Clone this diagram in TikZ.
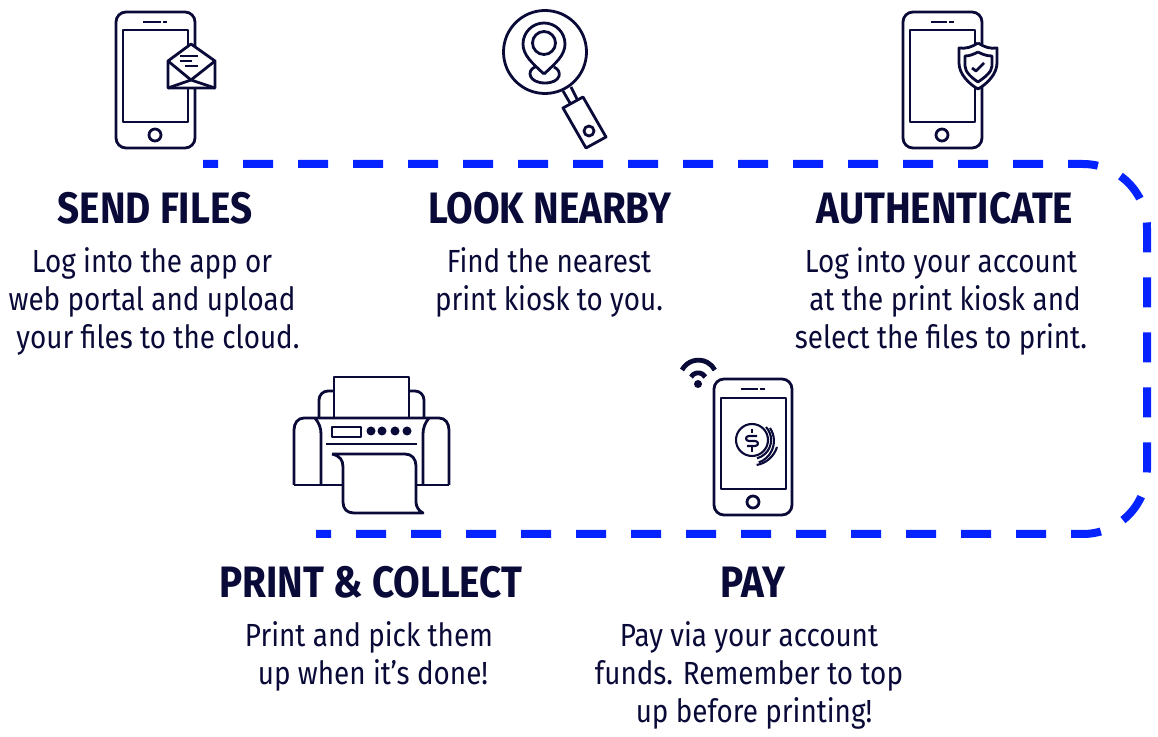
\documentclass[tikz,border=0pt]{standalone}
\usepackage{fontspec}
\setmainfont{Fira Sans}[FakeStretch=0.87]
\newfontfamily\headfont{Fira Sans}[FakeStretch=0.878,UprightFont=*-Bold]
\definecolor{inkblue}{HTML}{0A0A38}
\definecolor{routeblue}{HTML}{0423FF}
\begin{document}
\begin{tikzpicture}[x=0.5pt,y=-0.5pt]
\tikzstyle{every node}=[inner sep=0pt,text=inkblue]
\tikzstyle{icon}=[draw=inkblue,line width=1.4pt,line join=round]
\tikzstyle{fine}=[draw=inkblue,line width=1.05pt,line join=round]
\tikzstyle{route}=[draw=routeblue,line width=4pt,dash pattern=on 15pt off 12.5pt,dash phase=7.5pt]
\tikzstyle{heading}=[font=\headfont\fontsize{22}{24}\selectfont,anchor=base]
\tikzstyle{caption}=[font=\fontsize{16}{19}\selectfont,align=center,anchor=north]
\useasboundingbox (0,0) rectangle (1158,737);
% route
\coordinate (routestart) at (203,164);
\coordinate (routeend) at (316,534);
\draw[route] (routestart) -- (1083,164) arc (-90:0:64) -- (1147,470) arc (0:90:64) -- (routeend);
% send files
\draw[icon,rounded corners=5pt] (116,12) rectangle (195,148);
\draw[icon] (123,30) rectangle (188,122);
\draw[icon] (143,22) -- (161,22);
\draw[icon] (163,22) -- (167,22);
\draw[icon] (155,135) circle (6);
\draw[icon,fill=white] (168,61) -- (191,44) -- (215,61) -- (215,88) -- (168,88) -- cycle;
\draw[icon] (168,61) -- (191,80) -- (215,61);
\draw[icon] (168,88) -- (191,80) -- (215,88);
\draw[fine] (180,56) -- (198,56);
\draw[fine] (180,61) -- (192,61);
\draw[fine] (185,66) -- (198,66);
% look nearby
\draw[icon] (545,52) circle (41.500);
\draw[icon] (544,43) circle (11.500);
\draw[icon] (544,74) .. controls (532,63) and (523,55) .. (523,44) arc (180:360:21) .. controls (565,55) and (556,63) .. (544,74);
\draw[icon] (535,67) .. controls (526,71) and (529,83) .. (545,83) .. controls (561,83) and (563,71) .. (554,67);
\draw[icon] (563,91) -- (570,103);
\draw[icon] (571,87) -- (577,99);
\draw[icon] (563,108) -- (583,97) -- (606,137) -- (586,148) -- cycle;
\draw[icon] (589,131) circle (5);
% authenticate
\draw[icon,rounded corners=5pt] (903,12) rectangle (982,148);
\draw[icon] (910,30) rectangle (975,122);
\draw[icon] (931,22) -- (947,22);
\draw[icon] (949,22) -- (954,22);
\draw[icon] (942,135) circle (6);
\draw[icon,fill=white] (978,43) .. controls (972,47) and (966,49) .. (959,48) -- (959,63) .. controls (959,74) and (969,84) .. (978,89) .. controls (987,84) and (997,74) .. (997,63) -- (997,48) .. controls (990,49) and (984,47) .. (978,43);
\draw[icon] (978,52) .. controls (974,54) and (970,56) .. (965,56) -- (965,66) .. controls (965,72) and (972,78) .. (978,82) .. controls (984,78) and (992,72) .. (992,66) -- (992,56) .. controls (986,56) and (982,54) .. (978,52);
\draw[icon] (972,68) -- (976,71) -- (984,63);
% print and collect
\draw[icon] (334,377) rectangle (409,418);
\draw[icon] (334,391) -- (328,391) arc (-90:-180:9) -- (319,418);
\draw[icon] (409,391) -- (415,391) arc (-90:0:9) -- (424,418);
\draw[icon] (294,485) -- (294,430) .. controls (294,423) and (298,418) .. (304,418) -- (439,418) .. controls (445,418) and (449,423) .. (449,430) -- (449,485);
\draw[icon] (315,418) .. controls (319,423) and (321,428) .. (321,434) -- (321,485);
\draw[icon] (429,418) .. controls (425,423) and (423,428) .. (423,434) -- (423,485);
\draw[icon] (294,485) -- (343,485);
\draw[icon] (415,485) -- (449,485);
\draw[icon] (332,427) rectangle (361,437);
\foreach \dotx in {371,382,395,407}
  \fill[inkblue] (\dotx,431) circle (4.500);
\draw[icon] (326,444) -- (417,444);
\draw[icon] (332,454) -- (405,454) .. controls (412,454) and (416,459) .. (416,466) -- (416,502) .. controls (416,507) and (419,511) .. (423,513) -- (354,513) .. controls (347,513) and (343,509) .. (343,502) -- (343,467) .. controls (343,460) and (340,456) .. (332,454);
% pay
\draw[icon,rounded corners=5pt] (714,379) rectangle (792,515);
\draw[icon] (721,398) rectangle (786,489);
\draw[icon] (741,389) -- (758,389);
\draw[icon] (760,389) -- (765,389);
\draw[icon] (753,502) circle (6);
\draw[fine] (752,440) circle (16);
\draw[fine] (752,429) -- (752,433);
\draw[fine] (752,447) -- (752,452);
\draw[fine] (757,436) -- (749,436) .. controls (745,436) and (745,441) .. (749,441) -- (755,441) .. controls (759,441) and (759,446) .. (755,446) -- (747,446);
\draw[fine] (766,427) arc (-43:75:19);
\draw[fine] (770,428) arc (-34:70:23);
\draw[fine] (777,447) arc (17:80:26);
\fill[inkblue] (698,384) circle (4);
\draw[icon,line width=2.4pt] (691,377) arc (-150:-30:8.300);
\draw[icon,line width=2.4pt] (682,370) arc (-152:-28:18.600);
% texts
\node[heading] (sendhead) at (155,224) {SEND FILES};
\node[caption] (sendtext) at (152,247) {Log into the app or\\web portal and upload\\\hspace*{6pt}your files to the cloud.};
\node[heading] (nearhead) at (550,224) {LOOK NEARBY};
\node[caption] (neartext) at (549,247) {Find the nearest\\print kiosk to you.};
\node[heading] (authhead) at (945,224) {AUTHENTICATE};
\node[caption] (authtext) at (941,247) {Log into your account\\\hspace*{4pt}at the print kiosk and\\select the files to print.};
\node[heading] (printhead) at (371,598) {PRINT \& COLLECT};
\node[caption] (printtext) at (369,621) {Print and pick them\\\hspace*{4pt}up when it's done!};
\node[heading] (payhead) at (753,598) {PAY};
\node[caption] (paytext) at (749,621) {Pay via your account\\funds. Remember to top\\\hspace*{5pt}up before printing!};
\end{tikzpicture}
\end{document}
